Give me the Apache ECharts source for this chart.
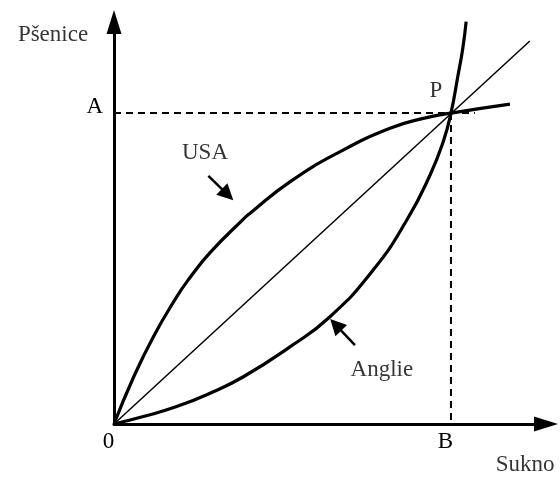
<!DOCTYPE html>
<html>
<head>
<meta charset="utf-8">
<script src="https://cdn.jsdelivr.net/npm/echarts@6/dist/echarts.min.js"></script>
<style>
  html, body { margin: 0; padding: 0; background: #fff; }
  #chart { width: 560px; height: 478px; }
</style>
</head>
<body>
<div id="chart"></div>
<script>
// units: B = 10 on the x axis, A = 10 on the y axis, P = (B, A)
const usaCurve = [
  [0, 0], [0.57, 1.48], [1.17, 2.81], [1.86, 4.09], [2.2, 4.63], [2.85, 5.51],
  [3.84, 6.59], [4.04, 6.78], [5.22, 7.79], [6.71, 8.76], [8.19, 9.51], [9.18, 9.83],
  [10, 10], [11.75, 10.29]
];
const anglieCurve = [
  [0, 0], [0.87, 0.24], [1.86, 0.56], [2.85, 0.99], [3.84, 1.52], [5.22, 2.48],
  [6.41, 3.45], [7.69, 4.95], [8.69, 6.56], [9.38, 8.01], [9.77, 9.08], [10, 10],
  [10.2, 11.16], [10.35, 12.08], [10.45, 12.94]
];
const diagonal = [[0, 0], [12.34, 12.32]];
const guideA = [[0, 10], [10.71, 10]];
const guideB = [[10, 10], [10, 0]];
const pointerArrows = [
  [[2.8, 7.98], [3.37, 7.38]],   // to USA
  [[7.15, 2.54], [6.58, 3.19]]   // to Anglie
];
const xTickLabels = { 0: '0', 10: 'B' };
const yTickLabels = { 10: 'A' };
const annotations = [
  [-1.81, 12.51, 'Pšenice'],
  [12.2, -1.32, 'Sukno'],
  [2.7, 8.72, 'USA'],
  [9.55, 10.72, 'P'],
  [7.95, 1.74, 'Anglie']
];

const FONT = 'Liberation Serif';
const chart = echarts.init(document.getElementById('chart'));

const curveSeries = (name, data, width) => ({
  name: name,
  type: 'line',
  data: data,
  smooth: 0.5,
  showSymbol: false,
  clip: false,
  lineStyle: { color: '#000', width: width },
  silent: true
});

const guideSeries = (name, data) => ({
  name: name,
  type: 'line',
  data: data,
  showSymbol: false,
  lineStyle: { color: '#000', width: 2, type: [7, 5] },
  silent: true
});

const option = {
  backgroundColor: '#fff',
  animation: false,
  textStyle: { fontFamily: FONT },
  grid: { left: 114, top: 22, right: 14, bottom: 54 },
  xAxis: {
    type: 'value',
    min: 0,
    max: 12.82,
    interval: 10,
    splitLine: { show: false },
    axisTick: { show: false },
    axisLine: {
      onZero: false,
      lineStyle: { color: '#000', width: 3 },
      symbol: ['none', 'triangle'],
      symbolSize: [15, 24]
    },
    axisLabel: {
      color: '#000',
      fontFamily: FONT,
      fontSize: 23,
      margin: 6,
      padding: [0, 11, 0, 0],
      showMaxLabel: false,
      formatter: v => xTickLabels[v] || ''
    }
  },
  yAxis: {
    type: 'value',
    min: 0,
    max: 12.93,
    interval: 10,
    splitLine: { show: false },
    axisTick: { show: false },
    axisLine: {
      onZero: false,
      lineStyle: { color: '#000', width: 3 },
      symbol: ['none', 'triangle'],
      symbolSize: [15, 24]
    },
    axisLabel: {
      color: '#000',
      fontFamily: FONT,
      fontSize: 23,
      margin: 11,
      lineHeight: 12,
      showMaxLabel: false,
      formatter: v => (yTickLabels[v] ? yTickLabels[v] + '\n ' : '')
    }
  },
  series: [
    guideSeries('guideA', guideA),
    guideSeries('guideB', guideB),
    curveSeries('diagonal', diagonal, 1.5),
    curveSeries('USA', usaCurve, 3.2),
    curveSeries('Anglie', anglieCurve, 3.2),
    {
      name: 'pointers',
      type: 'lines',
      coordinateSystem: 'cartesian2d',
      data: pointerArrows.map(c => ({ coords: c })),
      symbol: ['none', 'triangle'],
      symbolSize: 16,
      lineStyle: { color: '#000', width: 2.5, opacity: 1 },
      silent: true
    },
    {
      name: 'labels',
      type: 'scatter',
      data: annotations,
      symbolSize: 1,
      clip: false,
      itemStyle: { color: 'rgba(0,0,0,0)' },
      label: {
        show: true,
        position: 'inside',
        color: '#000',
        fontFamily: FONT,
        fontSize: 23,
        formatter: p => p.data[2]
      },
      silent: true
    }
  ]
};

chart.setOption(option);
</script>
</body>
</html>
